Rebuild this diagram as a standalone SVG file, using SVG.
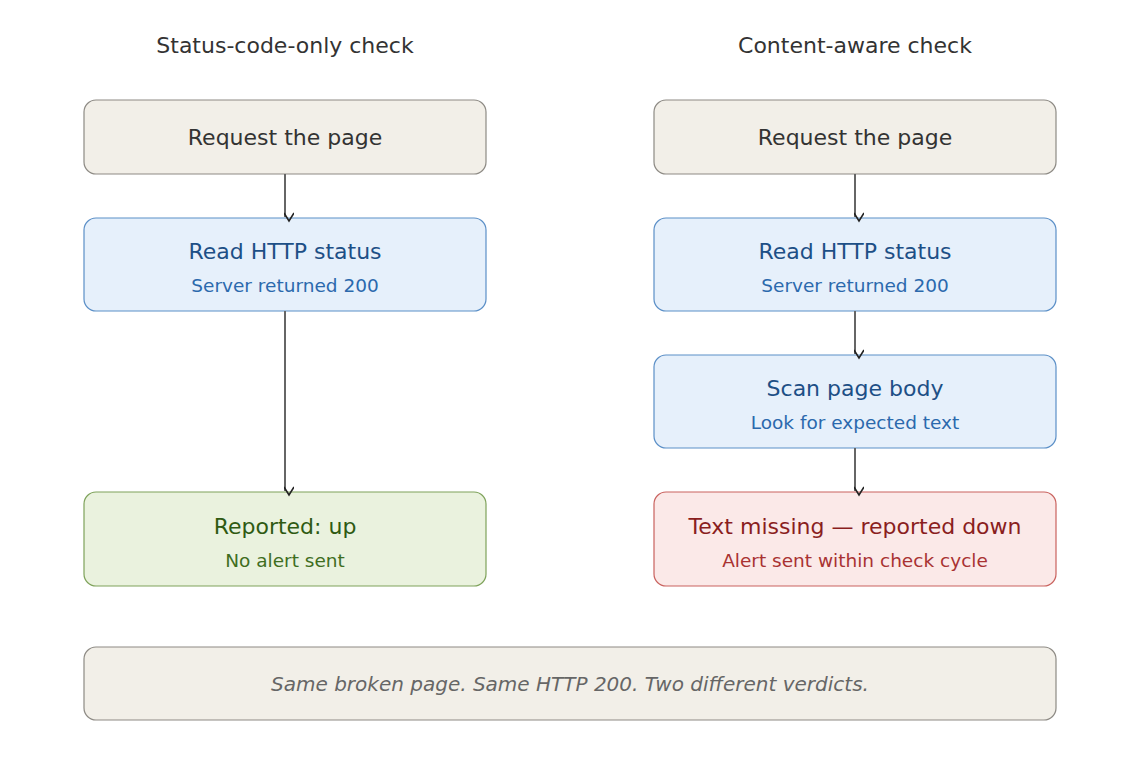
<svg xmlns="http://www.w3.org/2000/svg" width="1140" height="771" viewBox="0 0 1140 771">
<defs>
<marker id="ah" viewBox="0 0 12 10" refX="6" refY="9" markerWidth="12" markerHeight="10" markerUnits="userSpaceOnUse" orient="auto-start-reverse"><path d="M1 1 L6 9 L11 1" transform="rotate(-90 6 5)" fill="none" stroke="#222" stroke-width="1.6"/></marker>
<style>
text{font-family:"DejaVu Sans",sans-serif;text-anchor:middle}
.h{font-size:22px;fill:#333}
.t{font-size:22px}
.s{font-size:18.5px}
.g rect{fill:#f2efe8;stroke:#8d8a84;stroke-width:1.2}
.b rect{fill:#e6f0fb;stroke:#5b8fc7;stroke-width:1.2}
.b .t{fill:#1d4f86}.b .s{fill:#2b69ad}
.gr rect{fill:#eaf2de;stroke:#7ea25a;stroke-width:1.2}
.gr .t{fill:#2f5a12}.gr .s{fill:#3f6e1e}
.r rect{fill:#fbe9e8;stroke:#c9625e;stroke-width:1.2}
.r .t{fill:#8a1e1e}.r .s{fill:#a93232}
.c line{stroke:#666;stroke-width:2}
</style>
</defs>
<rect width="1140" height="771" fill="#fff"/>
<text class="h" x="285" y="53">Status-code-only check</text>
<text class="h" x="855" y="53">Content-aware check</text>
<g id="l1" class="g"><rect x="84" y="100" width="402" height="74" rx="12"/><text class="t" x="285" y="145" fill="#333">Request the page</text></g>
<g id="l2" class="b"><rect x="84" y="218" width="402" height="93" rx="12"/><text class="t" x="285" y="259">Read HTTP status</text><text class="s" x="285" y="292">Server returned 200</text></g>
<g id="l3" class="gr"><rect x="84" y="492" width="402" height="94" rx="12"/><text class="t" x="285" y="534">Reported: up</text><text class="s" x="285" y="567">No alert sent</text></g>
<g id="r1" class="g"><rect x="654" y="100" width="402" height="74" rx="12"/><text class="t" x="855" y="145" fill="#333">Request the page</text></g>
<g id="r2" class="b"><rect x="654" y="218" width="402" height="93" rx="12"/><text class="t" x="855" y="259">Read HTTP status</text><text class="s" x="855" y="292">Server returned 200</text></g>
<g id="r3" class="b"><rect x="654" y="355" width="402" height="93" rx="12"/><text class="t" x="855" y="396">Scan page body</text><text class="s" x="855" y="429">Look for expected text</text></g>
<g id="r4" class="r"><rect x="654" y="492" width="402" height="94" rx="12"/><text class="t" x="855" y="534">Text missing — reported down</text><text class="s" x="855" y="567">Alert sent within check cycle</text></g>
<g id="note" class="g"><rect x="84" y="647" width="972" height="73" rx="12"/><text x="570" y="691" font-size="20" font-style="italic" fill="#666">Same broken page. Same HTTP 200. Two different verdicts.</text></g>
<g id="connectors" class="c">
<line x1="285" y1="174" x2="285" y2="217" marker-end="url(#ah)"/>
<line x1="285" y1="311" x2="285" y2="491" marker-end="url(#ah)"/>
<line x1="855" y1="174" x2="855" y2="217" marker-end="url(#ah)"/>
<line x1="855" y1="311" x2="855" y2="354" marker-end="url(#ah)"/>
<line x1="855" y1="448" x2="855" y2="491" marker-end="url(#ah)"/>
</g>
</svg>
